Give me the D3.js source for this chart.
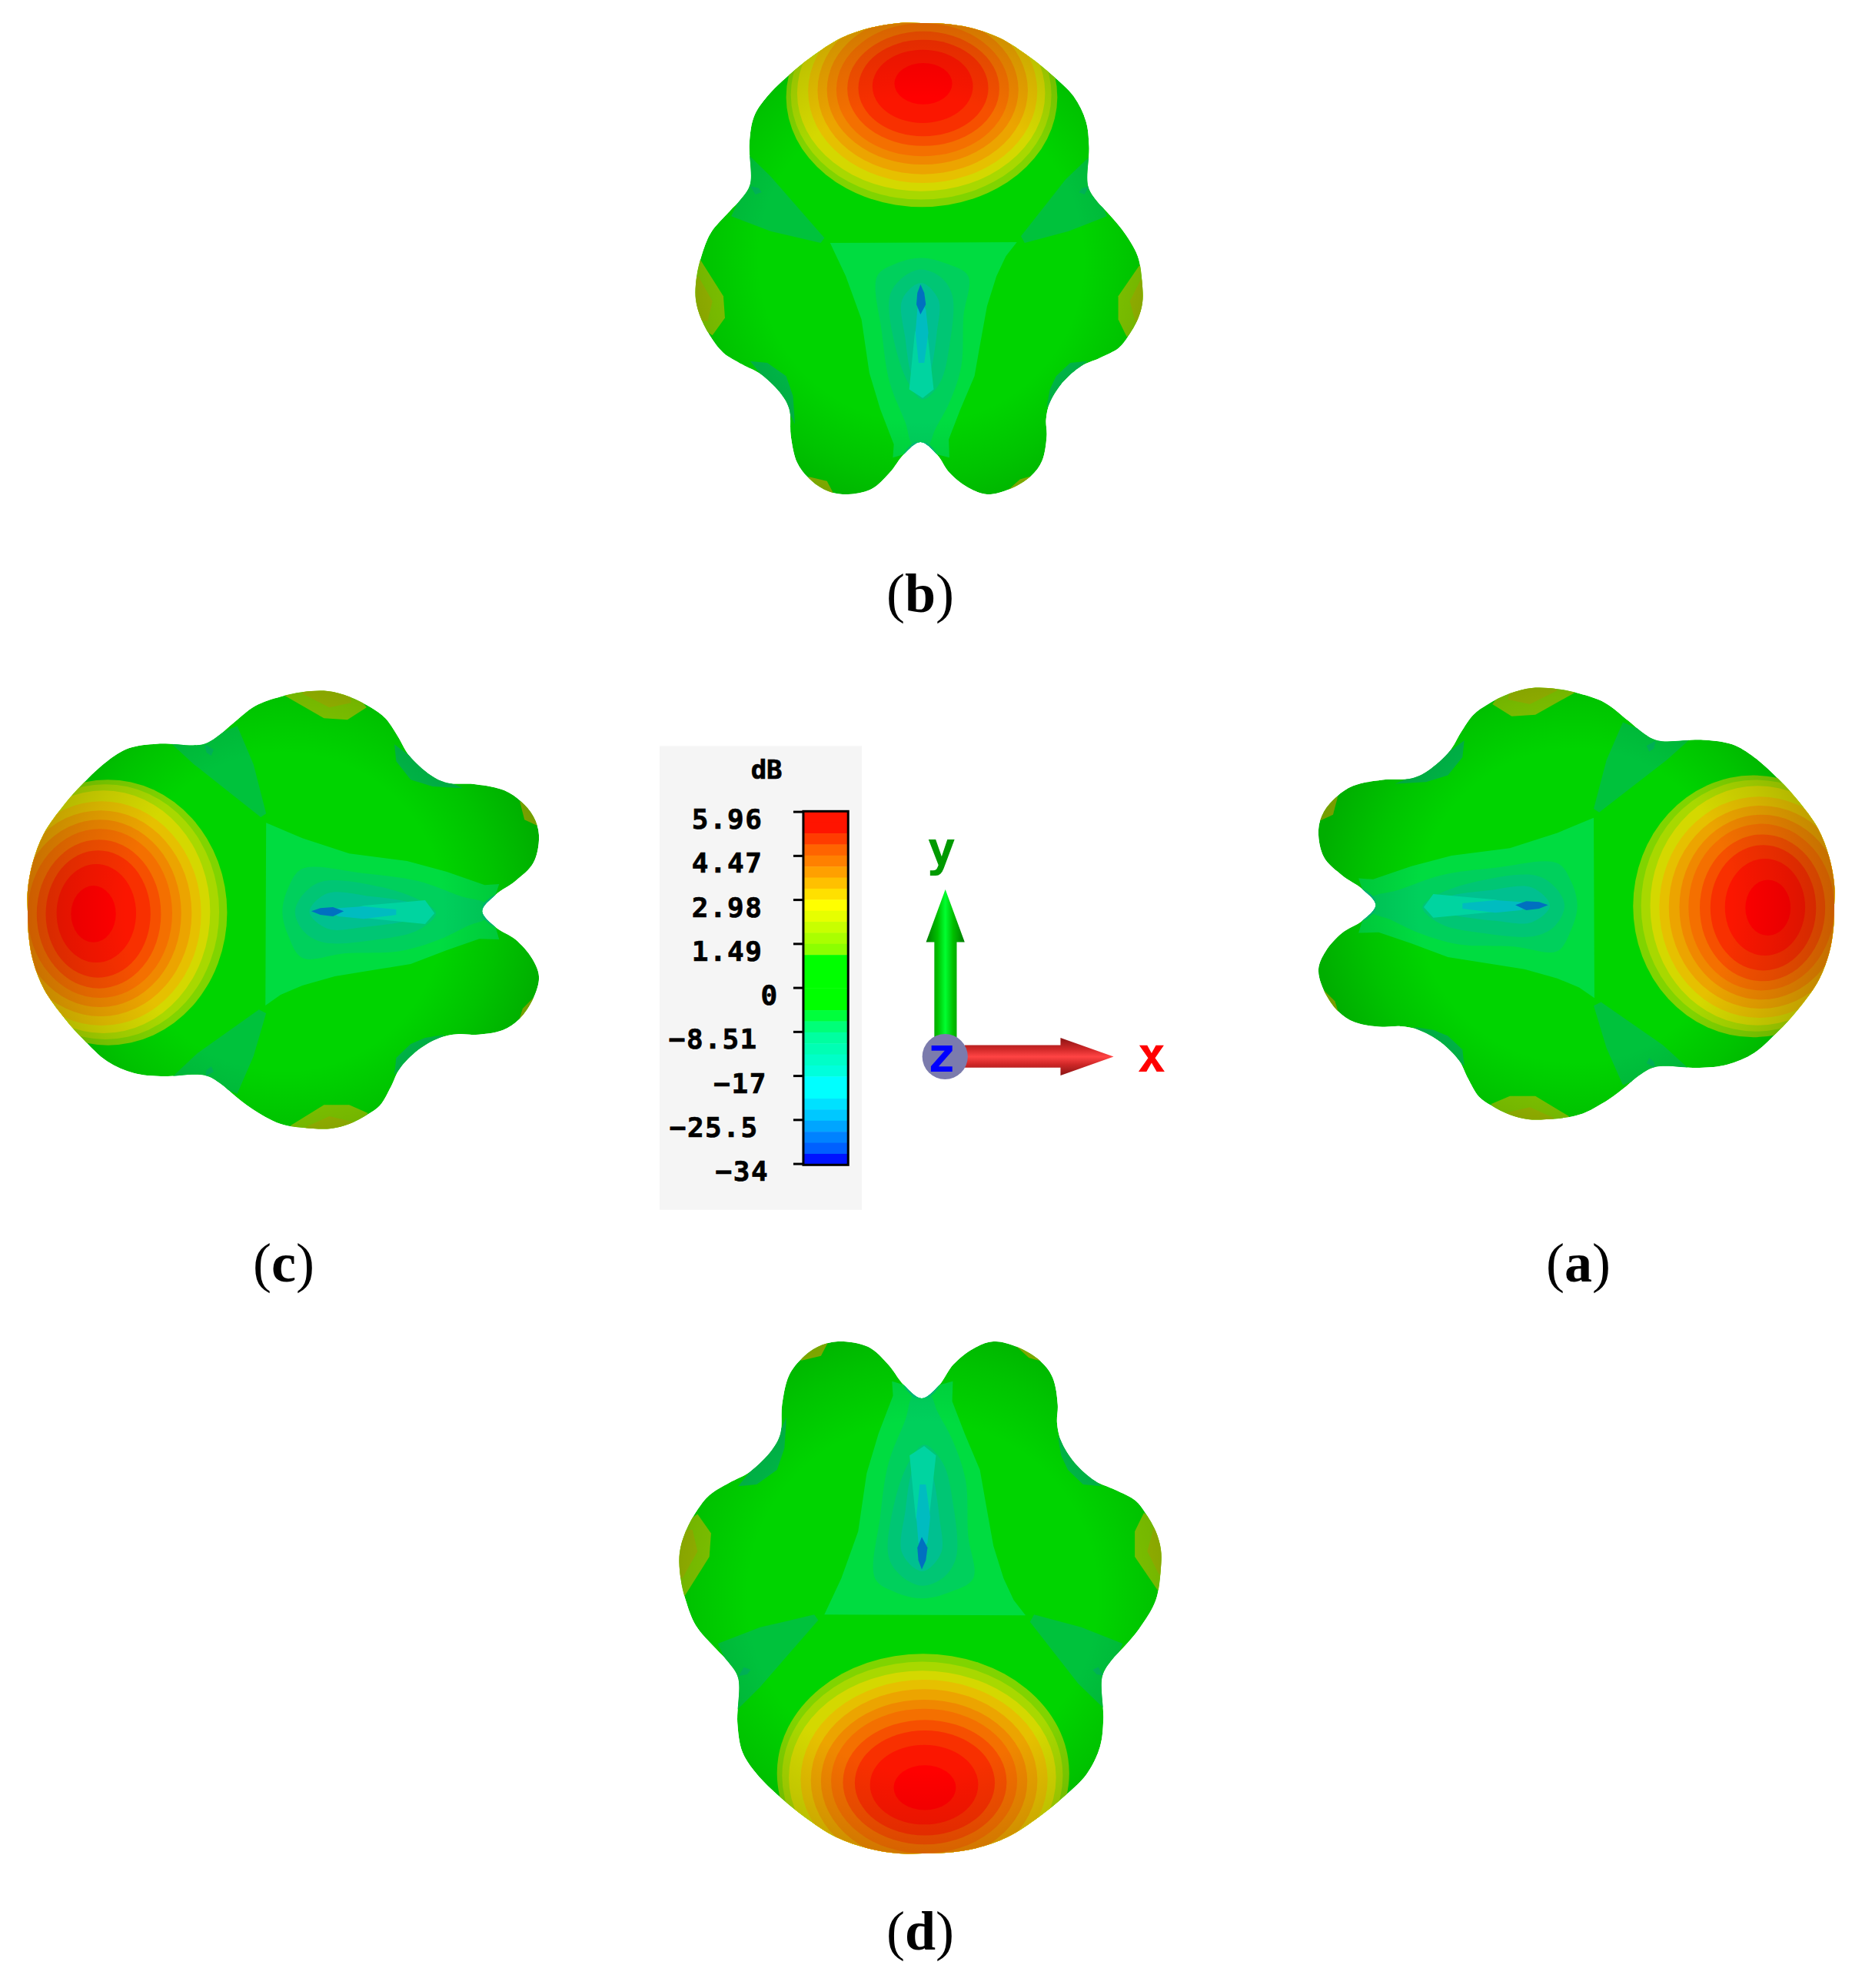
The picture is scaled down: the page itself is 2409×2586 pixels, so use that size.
<!DOCTYPE html>
<html><head><meta charset="utf-8">
<style>html,body{margin:0;padding:0;background:#fff}svg{display:block}</style>
<script src="https://cdn.jsdelivr.net/npm/d3@7"></script></head>
<body><svg id="c" width="2409" height="2586"></svg>
<script>
// ---- colour legend data ----
const tickLabels = ["5.96","4.47","2.98","1.49","0","-8.51","-17","-25.5","-34"];
const legendUnit = "dB";
const legendColors = ["#ff1400","#ff1400","#ff3c00","#ff6400","#ff8000","#ffa000","#ffc000","#ffe000","#ffff00","#e6ff00","#c8ff00","#aaff00","#8cff00",
 "#00ff00","#00ff00","#00ff00","#00ff00","#00ff00","#00ff3c","#00ff78","#00ffa0","#00ffb4","#00ffc8","#00ffdc","#00ffff","#00ffff","#00e1ff","#00c8ff","#00a5ff","#0082ff","#0060ff","#0014ff"];
const labelEnds = [340,340,340,340,385,325,352,327,357];

// ---- radiation pattern surface, read in one common view ----
const outline = [[780,70],[850,72],[936,84],[1031,115],[1126,172],[1196,225],[1266,290],[1305,365],[1315,440],[1312,560],[1340,605],[1375,640],[1420,690],[1470,770],[1485,860],[1485,910],[1470,960],[1440,1010],[1410,1045],[1350,1075],[1290,1100],[1230,1150],[1190,1210],[1178,1260],[1180,1310],[1165,1385],[1130,1430],[1060,1470],[990,1485],[930,1465],[870,1420],[830,1365],[778,1328],[725,1365],[680,1420],[620,1470],[530,1485],[470,1470],[420,1435],[385,1390],[365,1310],[360,1230],[335,1185],[270,1125],[210,1095],[150,1060],[115,1020],[80,960],[62,900],[65,830],[80,770],[110,700],[170,635],[205,600],[235,555],[233,430],[248,350],[290,290],[360,225],[430,172],[525,115],[620,84],[710,70]];
// dome contour levels, outermost first: [cx, cy, rx, ry, colour]
const domeLevels = [
 [782,292,432,330,"#80d400"],[780,285,415,315,"#a8d800"],[780,280,395,295,"#d4d800"],[785,275,365,275,"#e6c000"],
 [785,272,335,252,"#eca400"],[785,270,305,225,"#f08800"],[785,270,275,200,"#f47000"],[787,267,242,172,"#f65000"],
 [787,265,207,145,"#f83000"],[785,260,160,110,"#fb1600"],[787,252,92,62,"#ff0000"]];
// regions: [colour, points]
const sideRegions = [
 ["#80c800",[[76,780],[150,890],[155,955],[115,1008],[40,960],[40,800]]],
 ["#98b800",[[70,830],[115,905],[100,965],[50,960],[50,840]]],
 ["#80c800",[[1475,798],[1408,890],[1408,960],[1435,1012],[1510,960],[1510,800]]],
 ["#98b800",[[1480,840],[1445,905],[1465,975],[1500,960],[1500,840]]],
 ["#90c000",[[420,1432],[480,1445],[505,1490],[440,1480]]],
 ["#90c000",[[1050,1478],[1095,1440],[1140,1428],[1120,1480]]]
];
const shadeRegions = [
 ["#00c23c",[[233,468],[300,530],[472,715],[460,730],[300,695],[175,650],[205,590],[225,540]]],
 ["#00c23c",[[1315,472],[1240,540],[1098,710],[1110,730],[1250,695],[1372,650],[1345,590],[1320,540]]],
 ["#00b458",[[236,560],[262,565],[272,578],[252,585]]],
 ["#00b458",[[1315,562],[1295,565],[1283,578],[1300,585]]],
 ["#00b848",[[235,1085],[290,1090],[350,1130],[372,1190],[378,1275],[355,1230],[330,1180],[270,1125]]],
 ["#00b848",[[1310,1085],[1255,1090],[1210,1130],[1190,1170],[1180,1225],[1195,1205],[1230,1150]]]
];
const wedgeRegion = [[490,730],[1085,728],[1050,770],[1020,830],[990,920],[965,1050],[950,1130],[905,1230],[868,1320],[870,1375],[830,1365],[778,1328],[725,1365],[690,1375],[693,1335],[650,1230],[615,1120],[590,960],[540,830]];
const nullRegions = [
 ["#00d05c",[[640,830],[700,792],[780,775],[860,792],[930,830],[915,950],[908,1100],[870,1210],[825,1290],[800,1340],[755,1340],[730,1270],[680,1150],[655,1000]]],
 ["#00c674",[[680,890],[720,835],[780,810],[845,835],[880,890],[870,1040],[840,1150],[785,1200],[745,1160],[700,1050]]],
 ["#00c090",[[720,900],[780,850],[835,900],[830,1000],[810,1120],[785,1195],[750,1130],[730,1020]]],
 ["#00ba80",[[725,1370],[755,1332],[778,1328],[800,1332],[830,1370],[778,1400]]]
];
const streakRegions = [
 ["#00d4a0",[[742,1170],[760,1000],[778,945],[800,1000],[820,1170],[785,1196]]],
 ["#00bcc0",[[762,1000],[768,930],[778,900],[795,930],[803,1000],[790,1090],[772,1090]]],
 ["#0070c0",[[778,855],[790,880],[795,915],[778,945],[765,915],[768,880]]]
];
// panel boxes: label, whether the common view is rotated, and where its extents land
const panels = [
 {label:"b",rot:false,sx:[905,1486],sy:[30,643],lx:1197,ly:796},
 {label:"d",rot:false,sx:[884,1510],sy:[2411,1745],lx:1197,ly:2536},
 {label:"c",rot:true,sx:[36,701],sy:[899,1468],lx:369,ly:1667},
 {label:"a",rot:true,sx:[2386,1715],sy:[895,1456],lx:2053,ly:1667}
];
const svg = d3.select("#c");
const defs = svg.append("defs");

panels.forEach((p,i)=>{
  const ux = d3.scaleLinear().domain([62,1485]);
  const uy = d3.scaleLinear().domain([70,1485]);
  let X,Y;
  if(!p.rot){ ux.range(p.sx); uy.range(p.sy); X=d=>ux(d[0]); Y=d=>uy(d[1]); }
  else { uy.range(p.sx); ux.range(p.sy); X=d=>uy(d[1]); Y=d=>ux(d[0]); }
  const curve = d3.line().x(X).y(Y).curve(d3.curveCatmullRomClosed.alpha(0.5));
  const poly = d3.line().x(X).y(Y).curve(d3.curveLinearClosed);
  const g = svg.append("g");
  defs.append("clipPath").attr("id","clip"+i).append("path").attr("d",curve(outline));
  const body = g.append("g").attr("clip-path",`url(#clip${i})`);
  body.append("path").attr("d",curve(outline)).attr("fill","#00d400");
  body.selectAll(".side").data(sideRegions).join("path").attr("d",d=>poly(d[1])).attr("fill",d=>d[0]);
  body.selectAll(".shade").data(shadeRegions).join("path").attr("d",d=>poly(d[1])).attr("fill",d=>d[0]);
  body.append("path").attr("d",poly(wedgeRegion)).attr("fill","#00dc40");
  body.selectAll(".null").data(nullRegions).join("path").attr("d",d=>curve(d[1])).attr("fill",d=>d[0]);
  body.selectAll(".streak").data(streakRegions).join("path").attr("d",d=>poly(d[1])).attr("fill",d=>d[0]);
  // dome levels
  body.selectAll("ellipse.dome").data(domeLevels).join("ellipse").attr("class","dome")
    .attr("cx",d=>X(d)).attr("cy",d=>Y(d))
    .attr("rx",d=>p.rot?Math.abs(uy(d[3])-uy(0)):Math.abs(ux(d[2])-ux(0)))
    .attr("ry",d=>p.rot?Math.abs(ux(d[2])-ux(0)):Math.abs(uy(d[3])-uy(0)))
    .attr("fill",d=>d[4]);
  // rim shading
  const c=[X([780,780]),Y([780,780])];
  const r=Math.abs(ux(860)-ux(0));
  const grad=defs.append("radialGradient").attr("id","rim"+i).attr("gradientUnits","userSpaceOnUse")
    .attr("cx",c[0]).attr("cy",c[1]).attr("r",r);
  grad.selectAll("stop").data([[0,0],[0.6,0],[0.8,0.08],[1,0.18]]).join("stop")
    .attr("offset",d=>d[0]).attr("stop-color","#000").attr("stop-opacity",d=>d[1]);
  body.append("path").attr("d",curve(outline)).attr("fill",`url(#rim${i})`);
  // caption
  const t=svg.append("text").attr("x",p.lx).attr("y",p.ly).attr("text-anchor","middle")
    .attr("font-family","'Liberation Serif',serif").attr("font-size",72).attr("fill","#000");
  t.append("tspan").text("(");
  t.append("tspan").attr("font-weight","bold").text(p.label);
  t.append("tspan").text(")");
});

// ---- legend and triad ----
const lx = d3.scaleLinear().domain([0,700*2.23]).range([840,1540]);
const ly = d3.scaleLinear().domain([0,640*2.45]).range([950,1590]);
const leg = svg.append("g");
leg.append("rect").attr("x",lx(40)).attr("y",ly(50)).attr("width",lx(627)-lx(40)).attr("height",ly(1528)-ly(50)).attr("fill","#f5f5f5");
const band = d3.scaleBand().domain(d3.range(legendColors.length)).range([ly(258),ly(1385)]);
leg.selectAll("rect.b").data(legendColors).join("rect").attr("class","b")
  .attr("x",lx(457)).attr("width",lx(587)-lx(457)).attr("y",(d,i)=>band(i)).attr("height",band.bandwidth()+0.5).attr("fill",d=>d);
leg.append("rect").attr("x",lx(457)).attr("y",ly(258)).attr("width",lx(587)-lx(457)).attr("height",ly(1385)-ly(258)).attr("fill","none").attr("stroke","#000").attr("stroke-width",3);
const tickY = d3.scalePoint().domain(tickLabels).range([ly(260),ly(1382)]);
leg.selectAll("line.t").data(tickLabels).join("line").attr("class","t")
  .attr("x1",lx(428)).attr("x2",lx(457)).attr("y1",d=>tickY(d)).attr("y2",d=>tickY(d)).attr("stroke","#000").attr("stroke-width",3);
const mono="'DejaVu Sans Mono',monospace";
leg.selectAll("text.l").data(tickLabels).join("text").attr("class","l")
  .attr("x",(d,i)=>lx(labelEnds[i])).attr("y",d=>tickY(d)+22).attr("text-anchor","end")
  .attr("font-family",mono).attr("font-weight","bold").attr("font-size",36).attr("letter-spacing",1.5)
  .attr("stroke","#000").attr("stroke-width",0.7).attr("fill","#000").text(d=>d.replace("-","\u2212"));
leg.append("text").attr("x",lx(396)).attr("y",ly(155)).attr("text-anchor","end").attr("font-family",mono).attr("font-weight","bold").attr("font-size",34)
  .attr("stroke","#000").attr("stroke-width",0.7).text(legendUnit);

// triad
function grad(id,x1,y1,x2,y2,stops){
  const g=defs.append("linearGradient").attr("id",id).attr("x1",x1).attr("y1",y1).attr("x2",x2).attr("y2",y2);
  g.selectAll("stop").data(stops).join("stop").attr("offset",d=>d[0]).attr("stop-color",d=>d[1]);
}
grad("gArrow",0,0,1,0,[[0,"#007a00"],[0.3,"#00c000"],[0.5,"#00ff30"],[0.7,"#00c000"],[1,"#007a00"]]);
grad("rArrow",0,0,0,1,[[0,"#8a1414"],[0.3,"#d02828"],[0.5,"#ff4444"],[0.7,"#d02828"],[1,"#8a1414"]]);
const gArrowPts=[[869,507],[813,675],[837,675],[837,985],[902,985],[902,675],[925,675]];
const rArrowPts=[[925,1003],[1203,1003],[1203,980],[1357,1040],[1203,1100],[1203,1075],[925,1075]];
const tri=d3.line().x(d=>lx(d[0])).y(d=>ly(d[1])).curve(d3.curveLinearClosed);
const tg=svg.append("g");
tg.append("path").attr("d",tri(gArrowPts)).attr("fill","url(#gArrow)");
tg.append("path").attr("d",tri(rArrowPts)).attr("fill","url(#rArrow)");
tg.append("ellipse").attr("cx",lx(868)).attr("cy",ly(1040)).attr("rx",lx(66)-lx(0)).attr("ry",ly(72)-ly(0)).attr("fill","#7b7bad");
const axisLetters=[["y",858,430,"#009a00"],["z",858,1088,"#0000ff"],["x",1467,1088,"#ff0000"]];
tg.selectAll("text").data(axisLetters).join("text").attr("x",d=>lx(d[1])).attr("y",d=>ly(d[2])).attr("text-anchor","middle")
  .attr("font-family",mono).attr("font-weight","bold").attr("font-size",62).attr("fill",d=>d[3]).text(d=>d[0]);
</script></body></html>
